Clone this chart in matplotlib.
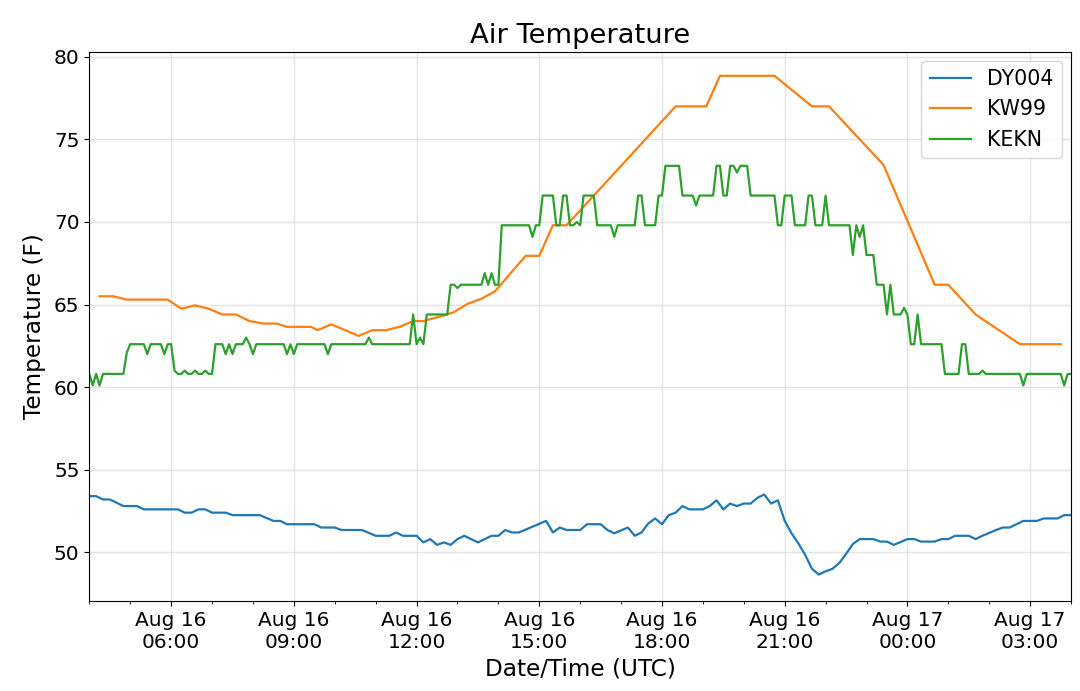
import matplotlib
matplotlib.use('Agg')
import matplotlib.pyplot as plt
import matplotlib.dates as mdates
from datetime import datetime, timedelta

# ---------------- data (times are UTC, starting Aug 16) ----------------
DY004_times = ['04:00', '04:10', '04:20', '04:30', '04:50', '05:10', '05:20', '06:10', '06:20', '06:30',
               '06:40', '06:50', '07:00', '07:20', '07:30', '08:10', '08:30', '08:40', '08:50', '09:30',
               '09:40', '10:00', '10:10', '10:40', '11:00', '11:20', '11:30', '11:40', '12:00', '12:10',
               '12:20', '12:30', '12:40', '12:50', '13:00', '13:10', '13:30', '13:50', '14:00', '14:10',
               '14:20', '14:30', '15:10', '15:20', '15:30', '15:40', '16:00', '16:10', '16:30', '16:40',
               '16:50', '17:10', '17:20', '17:30', '17:40', '17:50', '18:00', '18:10', '18:20', '18:30',
               '18:40', '19:00', '19:10', '19:20', '19:30', '19:40', '19:50', '20:00', '20:10', '20:20',
               '20:30', '20:40', '20:50', '21:00', '21:10', '21:20', '21:30', '21:40', '21:50', '22:00',
               '22:10', '22:20', '22:30', '22:40', '22:50', '23:10', '23:20', '23:30', '23:40', '00:00',
               '00:10', '00:20', '00:40', '00:50', '01:00', '01:10', '01:30', '01:40', '01:50', '02:10',
               '02:20', '02:30', '02:50', '03:10', '03:20', '03:40', '03:50', '04:00']
DY004_values = [53.4, 53.4, 53.2, 53.2, 52.8, 52.8, 52.6, 52.6, 52.4, 52.4,
                52.6, 52.6, 52.4, 52.4, 52.25, 52.25, 51.9, 51.9, 51.7, 51.7,
                51.5, 51.5, 51.35, 51.35, 51.0, 51.0, 51.2, 51.0, 51.0, 50.6,
                50.8, 50.45, 50.6, 50.45, 50.8, 51.0, 50.6, 51.0, 51.0, 51.35,
                51.2, 51.2, 51.9, 51.2, 51.5, 51.35, 51.35, 51.7, 51.7, 51.35,
                51.15, 51.5, 51.0, 51.2, 51.75, 52.05, 51.7, 52.25, 52.4, 52.8,
                52.6, 52.6, 52.8, 53.15, 52.6, 52.95, 52.8, 52.95, 52.95, 53.3,
                53.5, 52.95, 53.15, 51.9, 51.15, 50.55, 49.85, 49.0, 48.65, 48.85,
                49.0, 49.35, 49.9, 50.5, 50.8, 50.8, 50.65, 50.65, 50.45, 50.8,
                50.8, 50.65, 50.65, 50.8, 50.8, 51.0, 51.0, 50.8, 51.0, 51.35,
                51.5, 51.5, 51.9, 51.9, 52.05, 52.05, 52.25, 52.25]

KW99_times = ['04:15', '04:35', '04:55', '05:55', '06:15', '06:35', '06:55', '07:15', '07:35', '07:55',
              '08:15', '08:35', '08:50', '09:25', '09:35', '09:55', '10:35', '10:55', '11:15', '11:35',
              '11:55', '12:10', '12:45', '12:55', '13:15', '13:35', '13:55', '14:40', '15:00', '15:20',
              '15:40', '18:20', '19:05', '19:25', '20:45', '21:40', '22:05', '23:25', '00:40', '01:00',
              '01:40', '02:45', '03:45']
KW99_values = [65.5, 65.5, 65.3, 65.3, 64.75, 64.95, 64.75, 64.4, 64.4, 64.0,
               63.85, 63.85, 63.65, 63.65, 63.45, 63.8, 63.1, 63.45, 63.45, 63.65,
               64.0, 64.0, 64.4, 64.55, 65.05, 65.35, 65.8, 67.95, 67.95, 69.8,
               69.8, 77.0, 77.0, 78.85, 78.85, 77.0, 77.0, 73.45, 66.2, 66.2,
               64.4, 62.6, 62.6]

KEKN_times = ['04:00', '04:05', '04:10', '04:15', '04:20', '04:50', '04:55', '05:00', '05:20', '05:25',
              '05:30', '05:45', '05:50', '05:55', '06:00', '06:05', '06:10', '06:15', '06:20', '06:25',
              '06:30', '06:35', '06:40', '06:45', '06:50', '06:55', '07:00', '07:05', '07:15', '07:20',
              '07:25', '07:30', '07:35', '07:45', '07:50', '07:55', '08:00', '08:05', '08:45', '08:50',
              '08:55', '09:00', '09:05', '09:45', '09:50', '09:55', '10:45', '10:50', '10:55', '11:50',
              '11:55', '12:00', '12:05', '12:10', '12:15', '12:45', '12:50', '12:55', '13:00', '13:05',
              '13:35', '13:40', '13:45', '13:50', '13:55', '14:00', '14:05', '14:45', '14:50', '14:55',
              '15:00', '15:05', '15:20', '15:25', '15:30', '15:35', '15:40', '15:45', '15:50', '15:55',
              '16:00', '16:05', '16:20', '16:25', '16:45', '16:50', '16:55', '17:20', '17:25', '17:30',
              '17:35', '17:50', '17:55', '18:00', '18:05', '18:25', '18:30', '18:45', '18:50', '18:55',
              '19:15', '19:20', '19:25', '19:30', '19:35', '19:40', '19:45', '19:50', '19:55', '20:05',
              '20:10', '20:45', '20:50', '20:55', '21:00', '21:10', '21:15', '21:30', '21:35', '21:40',
              '21:45', '21:55', '22:00', '22:05', '22:35', '22:40', '22:45', '22:50', '22:55', '23:00',
              '23:10', '23:15', '23:25', '23:30', '23:35', '23:40', '23:50', '23:55', '00:00', '00:05',
              '00:10', '00:15', '00:20', '00:50', '00:55', '01:15', '01:20', '01:25', '01:30', '01:45',
              '01:50', '01:55', '02:45', '02:50', '02:55', '03:45', '03:50', '03:55', '04:00']
KEKN_values = [60.8, 60.1, 60.8, 60.1, 60.8, 60.8, 62.1, 62.6, 62.6, 62.0,
               62.6, 62.6, 62.0, 62.6, 62.6, 61.0, 60.8, 60.8, 61.0, 60.8,
               60.8, 61.0, 60.8, 60.8, 61.0, 60.8, 60.8, 62.6, 62.6, 62.0,
               62.6, 62.0, 62.6, 62.6, 63.0, 62.6, 62.0, 62.6, 62.6, 62.0,
               62.6, 62.0, 62.6, 62.6, 62.0, 62.6, 62.6, 63.0, 62.6, 62.6,
               64.4, 62.6, 63.0, 62.6, 64.4, 64.4, 66.2, 66.2, 66.0, 66.2,
               66.2, 66.9, 66.2, 66.9, 66.2, 66.2, 69.8, 69.8, 69.1, 69.8,
               69.8, 71.6, 71.6, 69.8, 69.8, 71.6, 71.6, 69.8, 69.8, 70.0,
               69.8, 71.6, 71.6, 69.8, 69.8, 69.1, 69.8, 69.8, 71.6, 71.6,
               69.8, 69.8, 71.6, 71.6, 73.4, 73.4, 71.6, 71.6, 71.0, 71.6,
               71.6, 73.4, 73.4, 71.6, 71.6, 73.4, 73.4, 73.0, 73.4, 73.4,
               71.6, 71.6, 69.8, 69.8, 71.6, 71.6, 69.8, 69.8, 71.6, 71.6,
               69.8, 69.8, 71.6, 69.8, 69.8, 68.0, 69.8, 69.1, 69.8, 68.0,
               68.0, 66.2, 66.2, 64.4, 66.2, 64.4, 64.4, 64.8, 64.4, 62.6,
               62.6, 64.4, 62.6, 62.6, 60.8, 60.8, 62.6, 62.6, 60.8, 60.8,
               61.0, 60.8, 60.8, 60.1, 60.8, 60.8, 60.1, 60.8, 60.8]

series_names = ['DY004', 'KW99', 'KEKN']


def to_datetimes(times, start_day=datetime(2019, 8, 16)):
    out = []
    day = start_day
    prev = None
    for t in times:
        h, m = map(int, t.split(':'))
        if prev is not None and (h, m) < prev:
            day += timedelta(days=1)
        prev = (h, m)
        out.append(day + timedelta(hours=h, minutes=m))
    return out


fig = plt.figure(figsize=(10.8, 6.91), dpi=100)
ax = fig.add_axes([0.0827, 0.1302, 0.909, 0.795])

ax.plot(to_datetimes(DY004_times), DY004_values, color='#1f77b4', lw=1.6, label=series_names[0])
ax.plot(to_datetimes(KW99_times), KW99_values, color='#ff7f0e', lw=1.6, label=series_names[1])
ax.plot(to_datetimes(KEKN_times), KEKN_values, color='#2ca02c', lw=1.6, label=series_names[2])

ax.set_xlim(datetime(2019, 8, 16, 4, 0), datetime(2019, 8, 17, 4, 0))
ax.set_ylim(47.05, 80.31)
ax.set_yticks([50, 55, 60, 65, 70, 75, 80])

ax.xaxis.set_major_locator(mdates.HourLocator(byhour=range(0, 24, 3)))
ax.xaxis.set_minor_locator(mdates.HourLocator())
ax.xaxis.set_major_formatter(mdates.DateFormatter('%b %d\n%H:%M'))

ax.grid(True, which='major', color='#d9d9d9', lw=1.0, alpha=0.7)
ax.tick_params(axis='both', which='major', labelsize=14.5)

ax.set_title('Air Temperature', fontsize=19.7)
ax.set_xlabel('Date/Time (UTC)', fontsize=16.7)
ax.set_ylabel('Temperature (F)', fontsize=16.7, labelpad=6)
ax.legend(loc='upper right', fontsize=14.8, borderaxespad=0.45)

fig.savefig('out.png', dpi=100)
